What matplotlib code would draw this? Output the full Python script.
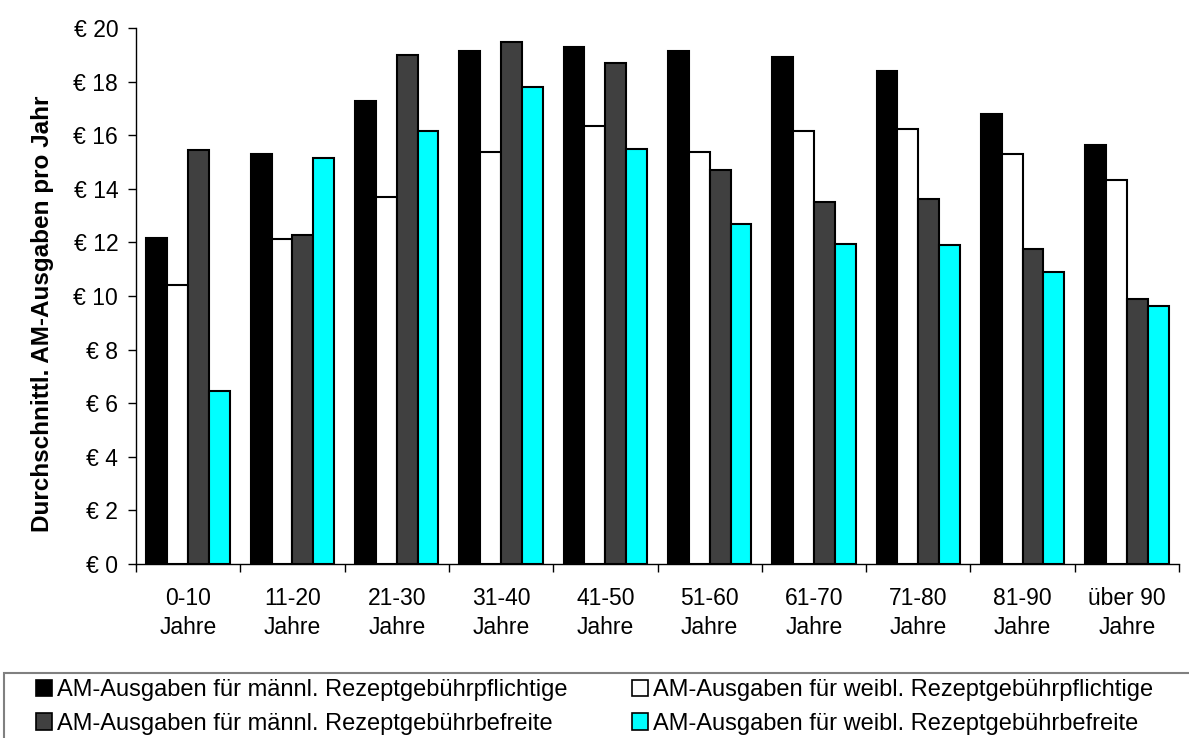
import matplotlib

matplotlib.use("Agg")
import matplotlib.pyplot as plt
import numpy as np
from matplotlib.patches import Patch, Rectangle

plt.rcParams["font.family"] = ["Liberation Sans", "DejaVu Sans"]

TICK_FONT = 16.5
LABEL_FONT = 17.5
LEGEND_FONT = 17

CATEGORIES = [
    "0-10\nJahre", "11-20\nJahre", "21-30\nJahre", "31-40\nJahre", "41-50\nJahre",
    "51-60\nJahre", "61-70\nJahre", "71-80\nJahre", "81-90\nJahre", "über 90\nJahre",
]
MAENNL_PFLICHTIG = [12.15, 15.30, 17.27, 19.14, 19.29, 19.13, 18.90, 18.39, 16.80, 15.64]
WEIBL_PFLICHTIG = [10.41, 12.13, 13.70, 15.38, 16.36, 15.39, 16.14, 16.22, 15.29, 14.31]
MAENNL_BEFREIT = [15.43, 12.26, 19.00, 19.49, 18.68, 14.72, 13.52, 13.63, 11.74, 9.90]
WEIBL_BEFREIT = [6.47, 15.14, 16.17, 17.79, 15.49, 12.67, 11.94, 11.90, 10.88, 9.61]

SERIES = [
    ("AM-Ausgaben für männl. Rezeptgebührpflichtige", MAENNL_PFLICHTIG, "#000000"),
    ("AM-Ausgaben für weibl. Rezeptgebührpflichtige", WEIBL_PFLICHTIG, "#ffffff"),
    ("AM-Ausgaben für männl. Rezeptgebührbefreite", MAENNL_BEFREIT, "#404040"),
    ("AM-Ausgaben für weibl. Rezeptgebührbefreite", WEIBL_BEFREIT, "#00ffff"),
]

W, H = 1189, 738
fig = plt.figure(figsize=(W / 100, H / 100), dpi=100)
ax = fig.add_axes([136 / W, 1 - 564 / H, 1043 / W, 536 / H])

x = np.arange(len(CATEGORIES))
width = 0.2
for i, (label, values, color) in enumerate(SERIES):
    ax.bar(
        x + (i - 1.5) * width,
        values,
        width,
        color=color,
        edgecolor="black",
        linewidth=1.5,
        label=label,
    )

ax.set_xlim(-0.5, len(CATEGORIES) - 0.5)
ax.set_ylim(0, 20)
ax.set_yticks(range(0, 21, 2))
ax.set_yticklabels([f"€ {v}" for v in range(0, 21, 2)], fontsize=TICK_FONT)
# group separators as major ticks, category names on minor ticks
ax.set_xticks(np.arange(-0.5, len(CATEGORIES), 1.0))
ax.set_xticklabels([])
ax.set_xticks(x, minor=True)
ax.set_xticklabels(CATEGORIES, minor=True, fontsize=TICK_FONT, linespacing=1.35)
ax.tick_params(axis="x", which="minor", length=0, pad=16.5)
ax.tick_params(axis="both", which="major", length=5.8, width=1, direction="out")
ax.tick_params(axis="y", pad=7)

for side in ["top", "right"]:
    ax.spines[side].set_visible(False)
for side in ["left", "bottom"]:
    ax.spines[side].set_linewidth(1)

ax.set_ylabel(
    "Durchschnittl. AM-Ausgaben pro Jahr",
    fontsize=LABEL_FONT,
    weight="bold",
)
ax.yaxis.set_label_coords(-0.079, 0.466)

# legend frame, cut at the bottom and right edge as in the original
fig.patches.append(
    Rectangle(
        (4 / W, -0.05),
        1.0,
        0.05 + 1 - 672.5 / H,
        transform=fig.transFigure,
        fill=False,
        edgecolor="#808080",
        linewidth=1.5,
    )
)

handles = [
    Patch(facecolor=c, edgecolor="black", linewidth=1.2, label=lbl)
    for lbl, _, c in SERIES
]
legend_kw = dict(
    loc="upper left",
    frameon=False,
    fontsize=LEGEND_FONT,
    handlelength=0.68,
    handleheight=0.68,
    handletextpad=0.22,
    labelspacing=0.5,
    borderaxespad=0,
    borderpad=0,
)
for col, x0 in enumerate([36, 632]):
    hs = [handles[col], handles[col + 2]]
    fig.legend(
        hs,
        [h.get_label() for h in hs],
        bbox_to_anchor=(x0 / W, 1 - 679 / H),
        **legend_kw,
    )

fig.savefig("out.png", dpi=100)
